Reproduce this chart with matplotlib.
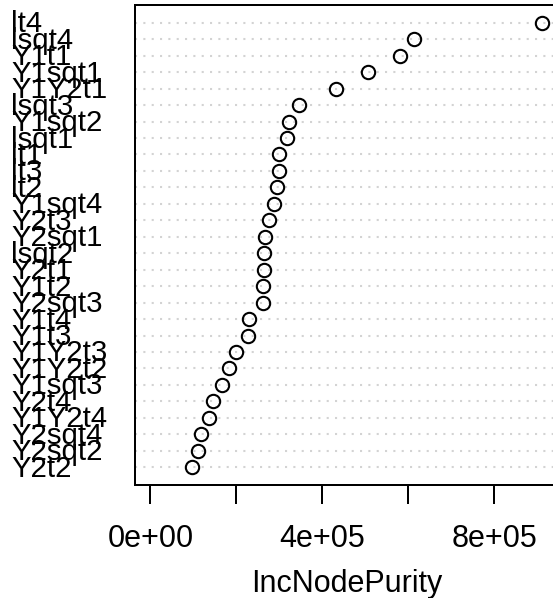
import matplotlib
matplotlib.use("Agg")
import matplotlib.pyplot as plt

# Variable importance (IncNodePurity), listed from the top row down
variables = [
    "lt4", "lsqt4", "Y1t1", "Y1sqt1", "Y1Y2t1", "lsqt3", "Y1sqt2", "lsqt1",
    "lt1", "lt3", "lt2", "Y1sqt4", "Y2t3", "Y2sqt1", "lsqt2", "Y2t1",
    "Y1t2", "Y2sqt3", "Y1t4", "Y1t3", "Y1Y2t3", "Y1Y2t2", "Y1sqt3", "Y2t4",
    "Y1Y2t4", "Y2sqt4", "Y2sqt2", "Y2t2",
]
inc_node_purity = [
    911600, 612500, 580700, 506000, 432600, 345000, 323000, 318000,
    298500, 298000, 295000, 287000, 276000, 266700, 264400, 263700,
    262800, 261400, 230200, 227900, 199300, 183000, 166700, 146500,
    136500, 117900, 110900, 96300,
]
x_ticks = [0, 2e5, 4e5, 6e5, 8e5]
x_tick_labels = ["0e+00", "", "4e+05", "", "8e+05"]
x_label = "IncNodePurity"

plt.rcParams["font.family"] = ["Liberation Sans", "DejaVu Sans"]

W, H = 553, 598
fig = plt.figure(figsize=(W / 100, H / 100), dpi=100)
ax = fig.add_axes([134.7 / W, (H - 485) / H, (558 - 134.7) / W, (485 - 5) / H])

n = len(variables)
ypos = list(range(n, 0, -1))

for y in ypos:
    ax.axhline(y, color="#d3d3d3", lw=1.5, ls=(0, (1, 3)), zorder=1)

ax.plot(inc_node_purity, ypos, linestyle="none", marker="o", ms=9.6,
        mfc="none", mec="black", mew=1.5, zorder=3)

xmax = max(inc_node_purity)
ax.set_xlim(-0.04 * xmax, 1.04 * xmax)
ax.set_ylim(1 - 0.04 * (n - 1), n + 0.04 * (n - 1))

ax.set_xticks(x_ticks)
ax.set_xticklabels(x_tick_labels, fontsize=22)
ax.set_yticks([])
ax.tick_params(axis="x", direction="out", length=13.7, width=1.44, pad=14.5)
for s in ax.spines.values():
    s.set_linewidth(1.44)
ax.set_xlabel(x_label, fontsize=22, labelpad=11)

for lab, y in zip(variables, ypos):
    ax.annotate(lab, xy=(11 / W, y), xycoords=("figure fraction", "data"),
                xytext=(0, -9.5), textcoords="offset pixels",
                ha="left", va="baseline", fontsize=21.2, annotation_clip=False)

fig.savefig("out.png", dpi=100)
